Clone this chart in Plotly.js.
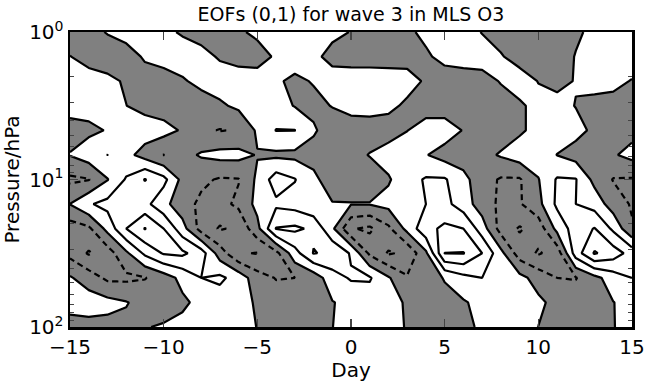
<!DOCTYPE html>
<html>
<head>
<meta charset="utf-8">
<script src="https://cdn.plot.ly/plotly-3.0.1.min.js"></script>
<style>html,body{margin:0;padding:0;background:#fff;}#chart{width:647px;height:382px;}</style>
</head>
<body>
<div id="chart"></div>
<script>
// Day axis and pressure levels (hPa)
var days = [-15,-14,-13,-12,-11,-10,-9,-8,-7,-6,-5,-4,-3,-2,-1,0,1,2,3,4,5,6,7,8,9,10,11,12,13,14,15];
var pressure = [1, 1.468, 2.154, 3.162, 4.642, 6.813, 10, 14.68, 21.54, 31.62, 46.42, 68.13, 100];

// EOF reconstruction values, one row per pressure level
var p1000 = [-0.4,-0.25,0.05,0.3,0.4,0.2,-0.1,-0.35,-0.45,-0.1,0.15,0.3,0.4,0.35,0.15,-0.02,-0.25,-0.35,-0.12,0.15,0.35,0.3,-0.03,-0.25,-0.4,-0.45,-0.35,-0.1,0.15,0.35,0.4];
var p1468 = [0.02,-0.3,-0.45,-0.35,0.1,0.35,0.45,0.3,-0.1,-0.35,-0.3,0.1,0.35,0.15,-0.2,-0.35,-0.4,-0.4,-0.3,-0.1,0.2,0.4,0.35,0.05,-0.25,-0.4,-0.3,0.03,0.3,0.4,0.3];
var p2154 = [0.35,0.35,0.2,-0.1,-0.35,-0.4,-0.1,0.25,0.45,0.5,0.35,0.1,-0.15,0.05,0.3,0.45,0.5,0.45,0.3,-0.1,-0.35,-0.45,-0.3,0.05,0.3,-0.02,-0.25,0.05,0.35,0.15,-0.03];
var p3162 = [0.4,0.35,0.2,0.01,-0.3,-0.5,-0.55,-0.45,-0.15,0.2,0.45,0.4,-0.05,-0.2,0.03,0.3,0.4,0.2,-0.15,-0.4,-0.5,-0.55,-0.5,-0.35,-0.1,0.2,0.3,-0.03,-0.3,-0.2,-0.02];
var p4642 = [-0.4,-0.2,0.05,0.4,0.5,0.35,-0.1,-0.8,-1.05,-0.9,0.15,1.03,1.02,0.1,-0.4,-0.45,-0.5,-0.4,-0.02,0.4,0.5,-0.05,-0.45,-0.5,-0.15,0.3,0.5,0.3,-0.2,-0.35,-0.3];
var p6813 = [0.05,0.5,1.01,0.3,-0.4,-1.02,-0.3,0.1,0.3,0.3,-0.05,-0.2,-0.25,-0.3,-0.4,-0.35,0.05,0.4,0.5,0.05,-0.4,-0.5,-0.3,0.1,0.5,0.5,-0.02,-0.4,-0.5,-0.1,0.3];
var p10 = [-1.2,-1.05,-0.05,1.1,2.05,1.3,-0.3,-0.8,-1.1,-1.05,0.2,1.5,1.05,0.2,-0.45,-0.7,-0.6,-0.1,0.6,1.1,1.1,0.3,-0.6,-1.1,-1.1,-0.05,1.1,1.05,-0.3,-1.05,-1.1];
var p1468b = [0.02,0.9,1.3,1.5,1.3,0.3,-0.6,-1.2,-1.3,-0.8,0.3,0.8,0.6,0.2,0.05,0.05,0.05,0.3,0.6,1.0,1.3,0.5,-0.5,-1.2,-1.1,-0.3,1.2,1.0,0.6,-0.5,-1.1];
var p2154b = [-1.5,-1.2,0.3,2.0,3.05,2.0,0.4,-1.4,-2.1,-1.8,-0.3,2.05,2.2,1.8,0.2,-1.9,-2.2,-1.2,0.3,1.7,2.2,2.0,0.5,-1.4,-2.1,-1.6,0.3,1.5,2.05,0.8,-0.9];
var p3162b = [-1.3,-2.1,-1.5,-0.2,1.2,2.1,2.2,1.5,-0.5,-1.9,-2.05,-1.3,0.6,2.05,1.8,0.9,-1.2,-2.1,-1.8,-0.2,3.01,3.05,2.0,0.3,-1.5,-2.1,-1.6,1.5,3.1,2.5,1.6];
var p4642b = [0.1,-0.5,-1.2,-1.2,-1.05,-0.5,0.3,1.0,1.2,0.6,-0.6,-1.05,-1.0,-0.6,0.6,1.1,1.1,0.1,-0.9,-0.7,0.1,0.7,1.0,0.95,0.3,-0.4,-1.0,-1.05,-0.3,0.5,1.0];
var p6813b = [0.4,0.5,0.3,0.05,-0.3,-0.5,-0.2,0.3,0.5,0.3,-0.1,-0.5,-0.6,-0.4,-0.05,0.3,0.5,0.3,-0.1,-0.4,-0.45,-0.1,0.3,0.5,0.5,0.2,-0.3,-0.5,-0.4,-0.02,0.3];
var p100 = [-0.4,-0.35,-0.3,-0.2,-0.05,0.1,0.3,0.35,0.3,0.15,-0.01,-0.25,-0.35,-0.3,-0.01,0.25,0.35,0.25,-0.05,-0.3,-0.4,-0.15,0.1,0.3,0.35,-0.01,-0.3,-0.4,-0.35,-0.02,0.2];

var zGrid = [p1000,p1468,p2154,p3162,p4642,p6813,p10,p1468b,p2154b,p3162b,p4642b,p6813b,p100];

var yTickVals = [1, 10, 100];
var yTickText = ['10<sup>0</sup>', '10<sup>1</sup>', '10<sup>2</sup>'];
var xTickVals = [-15, -10, -5, 0, 5, 10, 15];

var font = {family: 'DejaVu Sans, Verdana, sans-serif', size: 20, color: '#000'};

var fillTrace = {
  type: 'contour', x: days, y: pressure, z: zGrid,
  contours: {type: 'constraint', operation: '>', value: 0},
  fillcolor: '#808080',
  line: {color: '#000', width: 2.2, smoothing: 0},
  showscale: false, hoverinfo: 'skip'
};
var posTrace = {
  type: 'contour', x: days, y: pressure, z: zGrid,
  autocontour: false,
  contours: {start: 1, end: 3, size: 1, coloring: 'none'},
  line: {color: '#000', width: 2.2, smoothing: 0, dash: 'solid'},
  showscale: false, hoverinfo: 'skip'
};
var negTrace = {
  type: 'contour', x: days, y: pressure, z: zGrid,
  autocontour: false,
  contours: {start: -3, end: -1, size: 1, coloring: 'none'},
  line: {color: '#000', width: 2.2, smoothing: 0, dash: '6px,4px'},
  showscale: false, hoverinfo: 'skip'
};

var layout = {
  width: 647, height: 382,
  margin: {l: 70, r: 15, t: 32, b: 55},
  paper_bgcolor: '#fff', plot_bgcolor: '#fff',
  font: font,
  showlegend: false,
  title: {text: 'EOFs (0,1) for wave 3 in MLS O3', font: {family: font.family, size: 19, color: '#000'},
          x: 0.5, xref: 'paper', xanchor: 'center', y: 0.962, yref: 'container', yanchor: 'middle'},
  xaxis: {
    range: [-15, 15], tickvals: xTickVals, ticks: 'inside', ticklen: 8, tickwidth: 1.2,
    showline: true, linewidth: 2.5, linecolor: '#000', mirror: 'ticks', showgrid: false, zeroline: false,
    tickfont: {family: font.family, size: 20}, title: {text: 'Day', font: {family: font.family, size: 20}, standoff: 2}
  },
  yaxis: {
    type: 'log', range: [2, 0], tickvals: yTickVals, ticktext: yTickText, ticks: 'inside', ticklen: 8, tickwidth: 1.2,
    minor: {ticks: 'inside', ticklen: 4, tickwidth: 1, dtick: 'D1', showgrid: false},
    showline: true, linewidth: 2.5, linecolor: '#000', mirror: 'ticks', showgrid: false, zeroline: false,
    tickfont: {family: font.family, size: 20}, title: {text: 'Pressure/hPa', font: {family: font.family, size: 20}, standoff: 4}
  }
};

Plotly.newPlot('chart', [fillTrace, posTrace, negTrace], layout, {staticPlot: true, displayModeBar: false});
</script>
</body>
</html>
